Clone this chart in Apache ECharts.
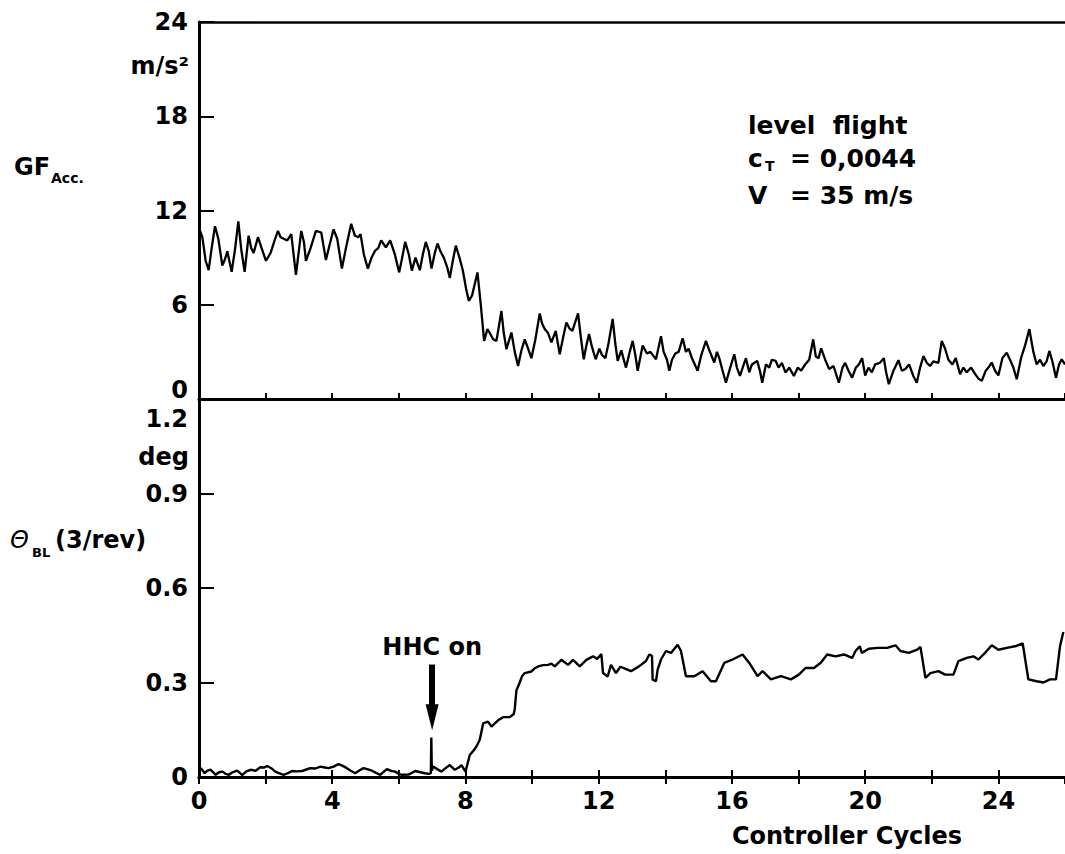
<!DOCTYPE html>
<html>
<head>
<meta charset="utf-8">
<script src="https://cdn.jsdelivr.net/npm/echarts@6/dist/echarts.min.js"></script>
<style>
html,body{margin:0;padding:0;background:#fff;}
#chart{width:1065px;height:854px;}
</style>
</head>
<body>
<div id="chart"></div>
<script>
// ---- data ----
const xTickLabels = [0, 4, 8, 12, 16, 20, 24];
const gfTicks = [0, 6, 12, 18, 24];
const thetaTicks = [0, 0.3, 0.6, 0.9, 1.2];

// GF_Acc. (m/s^2) vs controller cycles
const gfX = [0.00,0.10,0.20,0.29,0.38,0.48,0.58,0.70,0.78,0.85,0.98,1.08,1.18,1.27,1.37,1.49,1.57,1.64,1.77,1.88,
2.01,2.15,2.27,2.37,2.45,2.54,2.65,2.77,2.91,3.07,3.15,3.21,3.35,3.51,3.67,3.81,3.92,4.04,4.15,4.29,
4.42,4.57,4.68,4.79,4.85,4.95,5.07,5.18,5.29,5.38,5.47,5.61,5.74,5.88,6.01,6.10,6.19,6.30,6.39,6.50,
6.63,6.72,6.81,6.90,6.98,7.08,7.16,7.25,7.35,7.45,7.53,7.62,7.71,7.82,7.92,8.02,8.10,8.20,8.36,8.46,
8.56,8.66,8.73,8.83,8.93,9.08,9.15,9.23,9.38,9.48,9.58,9.68,9.78,9.88,9.98,10.10,10.23,10.30,10.38,10.48,
10.58,10.71,10.83,10.93,11.03,11.12,11.21,11.38,11.46,11.55,11.63,11.71,11.80,11.91,12.02,12.10,12.20,12.30,12.42,12.50,
12.57,12.68,12.74,12.82,12.92,13.02,13.10,13.17,13.32,13.45,13.55,13.72,13.87,13.95,14.05,14.12,14.20,14.30,14.40,14.52,
14.62,14.70,14.80,14.97,15.08,15.22,15.32,15.47,15.55,15.62,15.72,15.82,15.95,16.07,16.15,16.24,16.42,16.52,16.60,16.76,
16.85,16.91,17.02,17.12,17.20,17.31,17.40,17.50,17.61,17.72,17.86,17.98,18.08,18.20,18.32,18.44,18.52,18.60,18.68,18.80,
18.92,19.05,19.21,19.32,19.40,19.50,19.61,19.72,19.81,19.91,20.00,20.10,20.20,20.30,20.44,20.56,20.63,20.71,20.85,21.00,
21.10,21.20,21.32,21.44,21.55,21.65,21.75,21.85,21.95,22.05,22.20,22.30,22.40,22.50,22.62,22.72,22.85,22.95,23.05,23.18,
23.30,23.40,23.50,23.62,23.70,23.80,23.90,24.00,24.12,24.25,24.35,24.45,24.55,24.68,24.80,24.93,25.05,25.15,25.25,25.35,
25.45,25.53,25.62,25.73,25.82,25.90,26.00];
const gfY = [10.9,10.3,8.8,8.2,9.6,11.0,10.2,8.5,8.9,9.4,8.1,9.5,11.3,9.5,8.1,10.4,9.6,9.3,10.3,9.6,
8.8,9.3,10.1,10.7,10.3,10.2,10.1,10.5,7.9,10.7,10.0,8.8,9.6,10.7,10.6,8.85,9.8,10.8,10.2,8.3,
9.7,11.15,10.4,10.3,10.5,9.2,8.3,9.0,9.45,9.6,10.1,9.65,10.1,9.2,8.06,9.0,10.0,9.2,8.17,9.0,
8.2,9.2,10.0,9.4,8.3,9.3,9.9,9.4,9.0,8.4,7.7,8.8,9.76,9.0,8.2,7.0,6.25,6.6,8.06,6.0,
3.7,4.45,4.2,3.8,3.7,5.6,4.2,3.17,4.23,3.0,2.1,3.1,3.8,3.2,2.6,3.8,5.45,4.8,4.45,4.2,
3.6,4.34,2.85,3.9,4.87,4.5,4.34,5.45,4.0,2.53,3.4,4.13,3.3,2.53,3.2,2.8,2.6,3.6,5.1,3.5,
2.43,3.1,2.6,2.0,2.9,3.7,2.8,1.8,3.4,2.9,3.0,2.53,4.0,3.0,2.5,1.8,2.5,2.9,3.0,3.87,
3.0,3.2,2.6,1.8,2.8,3.7,3.1,2.32,3.0,2.6,1.8,1.04,2.0,2.85,2.0,1.47,2.6,1.7,2.2,2.43,
1.7,1.04,2.2,2.0,2.5,2.43,2.0,2.3,1.68,2.0,1.47,2.0,1.8,2.2,2.5,3.8,2.7,2.6,3.23,2.5,
1.9,2.1,1.04,2.0,2.3,1.8,1.36,2.0,2.2,2.6,1.5,2.0,1.7,2.2,2.3,2.6,1.7,0.94,1.8,2.47,
1.8,1.9,2.2,1.5,1.04,2.0,2.74,2.3,2.1,2.4,2.3,3.7,3.2,2.5,2.2,2.6,1.58,2.0,1.7,2.0,
1.6,1.3,1.15,1.8,2.0,2.32,1.8,1.5,2.6,2.95,2.5,2.0,1.26,2.6,3.4,4.45,3.0,2.2,2.5,2.1,
2.4,3.06,2.4,1.36,2.2,2.53,2.2];

// Theta_BL (3/rev) in deg vs controller cycles
const thX = [0.00,0.08,0.17,0.25,0.35,0.50,0.60,0.71,0.80,0.90,1.00,1.15,1.30,1.42,1.55,1.70,1.84,1.95,2.05,2.17,
2.29,2.40,2.54,2.67,2.79,2.95,3.09,3.20,3.34,3.50,3.64,3.78,3.89,4.04,4.19,4.30,4.44,4.56,4.69,4.80,
4.94,5.05,5.19,5.30,5.44,5.55,5.64,5.75,5.89,6.00,6.09,6.30,6.49,6.62,6.78,6.90,6.96,6.975,6.99,7.03,
7.15,7.28,7.40,7.53,7.68,7.80,7.88,8.00,8.13,8.25,8.33,8.43,8.53,8.68,8.78,8.90,8.98,9.13,9.33,9.45,
9.48,9.53,9.63,9.70,9.78,9.98,10.08,10.18,10.33,10.48,10.58,10.68,10.88,11.08,11.23,11.43,11.63,11.83,11.95,12.08,
12.13,12.27,12.37,12.52,12.65,12.77,12.97,13.22,13.42,13.52,13.60,13.62,13.72,13.77,13.87,14.02,14.17,14.37,14.47,14.62,
14.87,15.12,15.37,15.52,15.77,16.02,16.32,16.52,16.77,16.92,17.17,17.47,17.77,18.01,18.21,18.46,18.66,18.86,19.11,19.36,
19.61,19.71,19.84,19.90,20.11,20.37,20.66,20.91,21.06,21.31,21.56,21.66,21.81,21.96,22.20,22.40,22.65,22.80,23.05,23.25,
23.40,23.60,23.80,24.00,24.25,24.50,24.73,24.90,25.15,25.35,25.55,25.73,25.85,25.95];
const thY = [0.030,0.025,0.012,0.020,0.023,0.007,0.015,0.017,0.010,0.007,0.015,0.020,0.006,0.018,0.023,0.020,0.031,0.030,0.035,0.028,
0.017,0.012,0.007,0.012,0.019,0.018,0.019,0.023,0.028,0.027,0.033,0.030,0.028,0.033,0.041,0.036,0.028,0.020,0.012,0.020,
0.028,0.025,0.020,0.014,0.007,0.017,0.025,0.020,0.017,0.010,0.007,0.008,0.019,0.016,0.012,0.010,0.012,0.125,0.020,0.033,
0.025,0.017,0.028,0.038,0.023,0.030,0.038,0.017,0.070,0.085,0.097,0.118,0.170,0.176,0.160,0.172,0.180,0.190,0.190,0.200,
0.216,0.275,0.300,0.320,0.330,0.335,0.345,0.351,0.355,0.356,0.360,0.351,0.372,0.356,0.372,0.351,0.372,0.383,0.375,0.390,
0.330,0.319,0.356,0.330,0.350,0.345,0.336,0.352,0.368,0.389,0.385,0.309,0.304,0.341,0.373,0.400,0.394,0.420,0.400,0.320,
0.320,0.336,0.304,0.304,0.362,0.373,0.389,0.362,0.320,0.336,0.310,0.320,0.310,0.325,0.346,0.346,0.362,0.389,0.383,0.389,
0.378,0.400,0.415,0.394,0.407,0.410,0.410,0.418,0.400,0.394,0.404,0.413,0.315,0.330,0.336,0.325,0.325,0.368,0.378,0.383,
0.373,0.394,0.418,0.404,0.410,0.415,0.424,0.310,0.304,0.300,0.310,0.310,0.415,0.460];

const hhcX = 7;            // "HHC on" marker position (controller cycles)
const hhcArrowFrom = 0.357; // deg
const hhcArrowTo = 0.19;    // deg

// ---- chart ----
const FONT = 'DejaVu Sans';
const chart = echarts.init(document.getElementById('chart'), null, {renderer: 'svg'});
const zip = (a, b) => a.map((v, i) => [v, b[i]]);
const axisLine = {show: true, lineStyle: {color: '#000', width: 3}};
const lbl = {fontFamily: FONT, fontWeight: 'bold', fontSize: 24, color: '#000'};

const option = {
  animation: false,
  backgroundColor: '#fff',
  grid: [
    {left: 199, top: 22, width: 869, height: 377},
    {left: 199, top: 399, width: 869, height: 378}
  ],
  xAxis: [
    {gridIndex: 0, type: 'value', position: 'bottom', min: 0, max: 26, interval: 2,
     axisLine: axisLine, axisTick: {show: true, inside: true, length: 6, lineStyle: {width: 2, color: '#000'}},
     axisLabel: {show: false}, splitLine: {show: false}},
    {gridIndex: 0, type: 'value', position: 'top', min: 0, max: 26,
     axisLine: {show: true, lineStyle: {color: '#000', width: 2.5}}, axisTick: {show: false},
     axisLabel: {show: false}, splitLine: {show: false}},
    {gridIndex: 1, type: 'value', position: 'top', min: 0, max: 26, interval: 2,
     axisLine: axisLine, axisTick: {show: true, inside: true, length: 6, lineStyle: {width: 2, color: '#000'}},
     axisLabel: {show: false}, splitLine: {show: false}},
    {gridIndex: 1, type: 'value', position: 'bottom', min: 0, max: 26, interval: 2,
     axisLine: axisLine, axisTick: {show: true, inside: true, length: 7, lineStyle: {width: 2, color: '#000'}},
     axisLabel: Object.assign({margin: 12, showMaxLabel: false,
       formatter: v => (xTickLabels.indexOf(v) >= 0 ? String(v) : '')}, lbl),
     splitLine: {show: false},
     name: 'Controller Cycles', nameLocation: 'middle', nameGap: 47,
     nameTextStyle: Object.assign({padding: [0, 0, 0, 430]}, lbl)},
    {gridIndex: 1, type: 'value', position: 'bottom', min: 0, max: 26, interval: 2,
     axisLine: {show: false}, axisTick: {show: true, inside: false, length: 7, lineStyle: {width: 2, color: '#000'}},
     axisLabel: {show: false}, splitLine: {show: false}}
  ],
  yAxis: [
    {gridIndex: 0, type: 'value', min: 0, max: 24, interval: 6,
     axisLine: axisLine, axisTick: {show: true, inside: true, length: 15, lineStyle: {width: 2, color: '#000'}},
     axisLabel: Object.assign({margin: 11,
       formatter: v => (v === 0 ? '{lo|0}' : (gfTicks.indexOf(v) >= 0 ? String(v) : '')),
       rich: {lo: Object.assign({padding: [0, 0, 18, 0]}, lbl)}}, lbl),
     splitLine: {show: false}},
    {gridIndex: 1, type: 'value', min: 0, max: 1.2, interval: 0.3,
     axisLine: axisLine, axisTick: {show: true, inside: true, length: 15, lineStyle: {width: 2, color: '#000'}},
     axisLabel: Object.assign({margin: 11,
       formatter: v => {
         const r = Math.round(v * 10) / 10;
         if (r === 0) return '0';
         if (Math.abs(r - thetaTicks[4]) < 1e-9) return '{hi|' + r.toFixed(1) + '}';
         return r.toFixed(1);
       },
       rich: {hi: Object.assign({padding: [40, 0, 0, 0]}, lbl)}}, lbl),
     splitLine: {show: false}}
  ],
  series: [
    {type: 'line', xAxisIndex: 0, yAxisIndex: 0, data: zip(gfX, gfY), showSymbol: false, symbol: 'none',
     lineStyle: {color: '#000', width: 2.3}, silent: true},
    {type: 'line', xAxisIndex: 3, yAxisIndex: 1, data: zip(thX, thY), showSymbol: false, symbol: 'none',
     lineStyle: {color: '#000', width: 2.4}, silent: true,
     markLine: {
       silent: true, animation: false,
       symbol: ['none', 'triangle'], symbolSize: [13, 26],
       lineStyle: {color: '#000', width: 6, type: 'solid'},
       label: Object.assign({show: true, position: 'start', distance: 6, formatter: 'HHC on'}, lbl),
       data: [[{coord: [hhcX, hhcArrowFrom]}, {coord: [hhcX, hhcArrowTo]}]]
     }}
  ],
  graphic: [
    {type: 'text', x: 189, y: 66, style: {text: 'm/s²', textAlign: 'right', textVerticalAlign: 'middle', font: 'bold 24px "DejaVu Sans"', fill: '#000'}},
    {type: 'text', x: 189, y: 457, style: {text: 'deg', textAlign: 'right', textVerticalAlign: 'middle', font: 'bold 24px "DejaVu Sans"', fill: '#000'}},
    {type: 'text', x: 14, y: 167, style: {text: 'GF', textAlign: 'left', textVerticalAlign: 'middle', font: 'bold 24px "DejaVu Sans"', fill: '#000'}},
    {type: 'text', x: 51, y: 178, style: {text: 'Acc.', textAlign: 'left', textVerticalAlign: 'middle', font: 'bold 14px "DejaVu Sans"', fill: '#000'}},
    {type: 'text', x: 10, y: 540, style: {text: 'Θ', textAlign: 'left', textVerticalAlign: 'middle', font: 'italic 24px "DejaVu Sans"', fill: '#000'}},
    {type: 'text', x: 32, y: 552, style: {text: 'BL', textAlign: 'left', textVerticalAlign: 'middle', font: 'bold 13px "DejaVu Sans"', fill: '#000'}},
    {type: 'text', x: 55, y: 540, style: {text: '(3/rev)', textAlign: 'left', textVerticalAlign: 'middle', font: 'bold 24px "DejaVu Sans"', fill: '#000'}},
    {type: 'text', x: 748, y: 125, style: {text: 'level  flight', textAlign: 'left', textVerticalAlign: 'middle', font: 'bold 25px "DejaVu Sans"', fill: '#000'}},
    {type: 'text', x: 748, y: 158, style: {text: 'c', textAlign: 'left', textVerticalAlign: 'middle', font: 'bold 25px "DejaVu Sans"', fill: '#000'}},
    {type: 'text', x: 765, y: 166, style: {text: 'T', textAlign: 'left', textVerticalAlign: 'middle', font: 'bold 14px "DejaVu Sans"', fill: '#000'}},
    {type: 'text', x: 790, y: 158, style: {text: '= 0,0044', textAlign: 'left', textVerticalAlign: 'middle', font: 'bold 25px "DejaVu Sans"', fill: '#000'}},
    {type: 'text', x: 748, y: 195, style: {text: 'V', textAlign: 'left', textVerticalAlign: 'middle', font: 'bold 25px "DejaVu Sans"', fill: '#000'}},
    {type: 'text', x: 790, y: 195, style: {text: '= 35 m/s', textAlign: 'left', textVerticalAlign: 'middle', font: 'bold 25px "DejaVu Sans"', fill: '#000'}}
  ]
};
chart.setOption(option);
</script>
</body>
</html>
